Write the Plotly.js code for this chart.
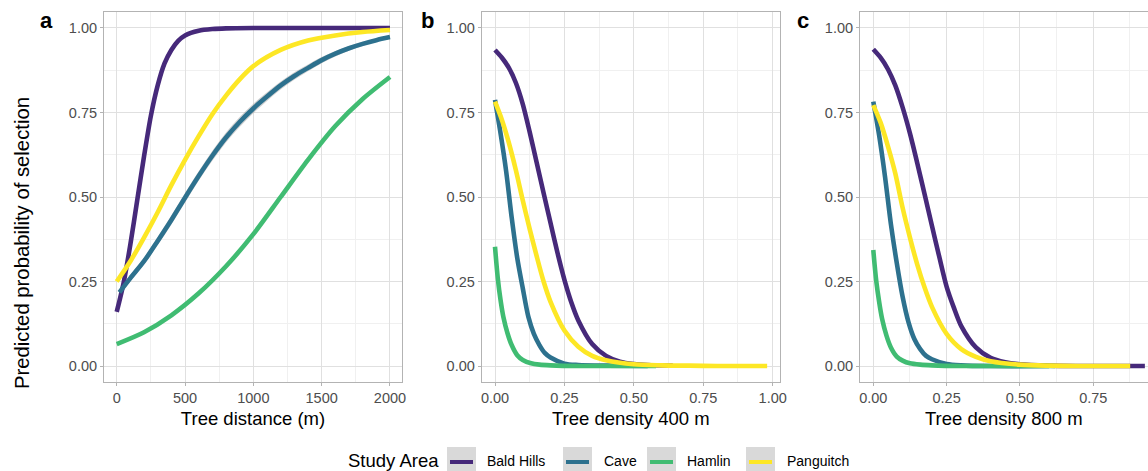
<!DOCTYPE html>
<html>
<head>
<meta charset="utf-8">
<script src="https://cdn.plot.ly/plotly-3.0.1.min.js"></script>
<style>html,body{margin:0;padding:0;background:#fff}</style>
</head>
<body>
<div id="chart" style="width:1148px;height:471px"></div>
<script>
// ---------- data ----------
const studyAreas = ["Bald Hills", "Cave", "Hamlin", "Panguitch"];
const areaColors = ["#46297A", "#2D718E", "#40BC72", "#FDE725"];

// Panel a: tree distance (m)
const distBald = [0,50,100,150,200,250,300,350,400,450,500,600,700,800,1000,1200,1400,1600,1800,2000];
const probDistBald = [0.16,0.245,0.36,0.49,0.62,0.74,0.83,0.895,0.935,0.962,0.978,0.992,0.997,0.999,1.0,1.0,1.0,1.0,1.0,1.0];
const distCave = [20,100,200,300,400,500,600,700,800,900,1000,1100,1200,1300,1400,1500,1600,1700,1800,1900,2000];
const probDistCave = [0.218,0.26,0.31,0.37,0.432,0.498,0.562,0.622,0.676,0.722,0.762,0.797,0.83,0.858,0.882,0.905,0.924,0.94,0.953,0.964,0.973];
const seDistCave = [0.008,0.009,0.01,0.012,0.013,0.014,0.014,0.015,0.015,0.015,0.014,0.013,0.012,0.011,0.01,0.009,0.008,0.007,0.006,0.005,0.005];
const distHamlin = [0,200,400,600,800,1000,1200,1400,1600,1800,2000];
const probDistHamlin = [0.065,0.10,0.15,0.215,0.295,0.39,0.50,0.61,0.71,0.79,0.855];
const distPang = [0,100,200,300,400,500,600,700,800,900,1000,1200,1400,1600,1800,2000];
const probDistPang = [0.25,0.31,0.38,0.455,0.535,0.61,0.68,0.745,0.80,0.848,0.887,0.935,0.963,0.978,0.988,0.994];

// Panel b: tree density 400 m
const d400Bald = [0,0.025,0.05,0.075,0.1,0.125,0.15,0.175,0.2,0.225,0.25,0.275,0.3,0.35,0.4,0.45,0.5,0.55,0.64];
const p400Bald = [0.935,0.912,0.882,0.838,0.775,0.692,0.602,0.512,0.423,0.335,0.255,0.188,0.135,0.065,0.03,0.013,0.006,0.003,0.001];
const d400Cave = [0,0.02,0.04,0.06,0.08,0.1,0.12,0.14,0.16,0.18,0.2,0.25,0.3,0.4,0.55];
const p400Cave = [0.787,0.688,0.577,0.44,0.32,0.23,0.146,0.095,0.062,0.038,0.025,0.007,0.003,0.001,0.0];
const d400Hamlin = [0,0.01,0.02,0.03,0.045,0.06,0.08,0.1,0.13,0.16,0.2,0.3,0.4,0.58];
const p400Hamlin = [0.353,0.26,0.195,0.146,0.097,0.062,0.032,0.018,0.008,0.004,0.002,0.0,0.0,0.0];
const d400Pang = [0,0.025,0.05,0.075,0.1,0.125,0.15,0.175,0.2,0.25,0.3,0.35,0.4,0.5,0.6,0.7,0.8,0.9,0.98];
const p400Pang = [0.782,0.728,0.66,0.58,0.49,0.405,0.325,0.25,0.19,0.105,0.057,0.03,0.017,0.005,0.002,0.001,0.0,0.0,0.0];

// Panel c: tree density 800 m
const d800Bald = [0,0.025,0.05,0.075,0.1,0.125,0.15,0.175,0.2,0.225,0.25,0.275,0.3,0.35,0.4,0.45,0.5,0.6,0.7,0.8,0.926];
const p800Bald = [0.937,0.912,0.878,0.83,0.765,0.688,0.6,0.508,0.415,0.323,0.235,0.172,0.118,0.055,0.024,0.011,0.005,0.001,0.0,0.0,0.0];
const d800Cave = [0,0.02,0.04,0.06,0.08,0.1,0.12,0.14,0.16,0.18,0.2,0.25,0.3,0.4,0.6];
const p800Cave = [0.782,0.682,0.56,0.42,0.305,0.205,0.13,0.08,0.05,0.03,0.02,0.006,0.002,0.0,0.0];
const d800Hamlin = [0,0.01,0.02,0.03,0.045,0.06,0.08,0.1,0.125,0.16,0.2,0.3,0.4,0.62];
const p800Hamlin = [0.343,0.252,0.19,0.14,0.09,0.055,0.028,0.016,0.008,0.004,0.002,0.0,0.0,0.0];
const d800Pang = [0,0.025,0.05,0.075,0.1,0.125,0.15,0.175,0.2,0.25,0.3,0.35,0.4,0.5,0.6,0.7,0.8,0.876];
const p800Pang = [0.772,0.72,0.65,0.57,0.468,0.38,0.3,0.232,0.175,0.095,0.05,0.027,0.014,0.004,0.001,0.0,0.0,0.0];

const probTicks = [0, 0.25, 0.5, 0.75, 1];
const probTickText = ["0.00", "0.25", "0.50", "0.75", "1.00"];
const distTicks = [0, 500, 1000, 1500, 2000];
const distTickText = ["0", "500", "1000", "1500", "2000"];
const densTicks400 = [0, 0.25, 0.5, 0.75, 1];
const densTickText400 = ["0.00", "0.25", "0.50", "0.75", "1.00"];
const densTicks800 = [0, 0.25, 0.5, 0.75];
const densTickText800 = ["0.00", "0.25", "0.50", "0.75"];
const xTitles = ["Tree distance (m)", "Tree density 400 m", "Tree density 800 m"];
const yTitle = "Predicted probability of selection";
const panelLetters = ["a", "b", "c"];
const legendTitle = "Study Area";

// ---------- traces ----------
const FONT = "Liberation Sans, Arial, sans-serif";
const LW = 4.6;
const traces = [];

// ribbon for Cave in panel a
const caveLo = probDistCave.map((v, i) => v - seDistCave[i]);
const caveHi = probDistCave.map((v, i) => v + seDistCave[i]);
traces.push({x: distCave, y: caveLo, xaxis: "x", yaxis: "y", mode: "lines",
  line: {width: 0, shape: "spline", color: "rgba(0,0,0,0)"}, hoverinfo: "skip", showlegend: false});
traces.push({x: distCave, y: caveHi, xaxis: "x", yaxis: "y", mode: "lines", fill: "tonexty",
  fillcolor: "rgba(153,153,153,0.45)", line: {width: 0, shape: "spline", color: "rgba(0,0,0,0)"},
  hoverinfo: "skip", showlegend: false});

const panels = [
  {xa: "x", ya: "y", xs: [distBald, distCave, distHamlin, distPang], ys: [probDistBald, probDistCave, probDistHamlin, probDistPang]},
  {xa: "x2", ya: "y2", xs: [d400Bald, d400Cave, d400Hamlin, d400Pang], ys: [p400Bald, p400Cave, p400Hamlin, p400Pang]},
  {xa: "x3", ya: "y3", xs: [d800Bald, d800Cave, d800Hamlin, d800Pang], ys: [p800Bald, p800Cave, p800Hamlin, p800Pang]}
];
panels.forEach((p, pi) => {
  studyAreas.forEach((name, i) => {
    traces.push({
      x: p.xs[i], y: p.ys[i], xaxis: p.xa, yaxis: p.ya, name: name, mode: "lines",
      line: {color: areaColors[i], width: LW, shape: "spline", smoothing: 0.8},
      showlegend: false
    });
  });
});

// ---------- layout ----------
const W = 1148, H = 471;
const px = v => v / W;
const py = v => 1 - v / H;
const yDom = [py(382), py(12)];

function xAxis(dom, range, tv, tt, minorDt, title) {
  return {
    domain: dom, range: range, tickmode: "array", tickvals: tv, ticktext: tt,
    showline: true, linecolor: "#b3b3b3", linewidth: 1, mirror: true,
    ticks: "outside", ticklen: 3, tickcolor: "#b3b3b3", tickwidth: 1,
    showgrid: true, gridcolor: "#e0e0e0", gridwidth: 1, zeroline: false,
    minor: {dtick: minorDt, tick0: 0, showgrid: true, gridcolor: "#f0f0f0", gridwidth: 1},
    tickfont: {family: FONT, size: 14.5, color: "#4d4d4d"},
    title: {text: title, font: {family: FONT, size: 18.5, color: "#000"}, standoff: 6},
    fixedrange: true
  };
}
function yAxis(anchor) {
  return {
    domain: yDom, range: [-0.0473, 1.0473], anchor: anchor,
    tickmode: "array", tickvals: probTicks, ticktext: probTickText,
    showline: true, linecolor: "#b3b3b3", linewidth: 1, mirror: true,
    ticks: "outside", ticklen: 3, tickcolor: "#b3b3b3", tickwidth: 1,
    showgrid: true, gridcolor: "#e0e0e0", gridwidth: 1, zeroline: false,
    minor: {dtick: 0.125, tick0: 0, showgrid: true, gridcolor: "#f0f0f0", gridwidth: 1},
    tickfont: {family: FONT, size: 14.5, color: "#4d4d4d"},
    fixedrange: true
  };
}

const layout = {
  width: W, height: H,
  margin: {l: 0, r: 0, t: 0, b: 0, pad: 0, autoexpand: false},
  paper_bgcolor: "#ffffff", plot_bgcolor: "#ffffff",
  showlegend: false,
  font: {family: FONT},
  xaxis: Object.assign(xAxis([px(104), px(402)], [-93, 2088], distTicks, distTickText, 250, xTitles[0]), {anchor: "y"}),
  yaxis: yAxis("x"),
  xaxis2: Object.assign(xAxis([px(481.7), px(780)], [-0.0479, 1.0263], densTicks400, densTickText400, 0.125, xTitles[1]), {anchor: "y2"}),
  yaxis2: yAxis("x2"),
  xaxis3: Object.assign(xAxis([px(860), px(1147.5)], [-0.0453, 0.935], densTicks800, densTickText800, 0.125, xTitles[2]), {anchor: "y3"}),
  yaxis3: yAxis("x3"),
  annotations: [],
  shapes: []
};

// y title (shared)
layout.annotations.push({text: yTitle, xref: "paper", yref: "paper", x: px(22), y: py(243),
  xanchor: "center", yanchor: "middle", textangle: -90, showarrow: false,
  font: {family: FONT, size: 20.3, color: "#000"}});

// panel letters
const letterPos = [[47, 21], [427, 21], [803, 21]];
panelLetters.forEach((l, i) => {
  layout.annotations.push({text: "<b>" + l + "</b>", xref: "paper", yref: "paper",
    x: px(letterPos[i][0]), y: py(letterPos[i][1]), xanchor: "center", yanchor: "middle",
    showarrow: false, font: {family: FONT, size: 22, color: "#000"}});
});

// legend (ggplot-style, with grey ribbon keys)
layout.annotations.push({text: legendTitle, xref: "paper", yref: "paper", x: px(346), y: py(460),
  xanchor: "left", yanchor: "middle", showarrow: false, font: {family: FONT, size: 18.5, color: "#000"}});
const keyX = [447, 563, 647, 746];
const labelX = [485, 602, 685, 785];
studyAreas.forEach((name, i) => {
  layout.shapes.push({type: "rect", xref: "paper", yref: "paper", x0: px(keyX[i]), x1: px(keyX[i] + 29),
    y0: py(476), y1: py(447), fillcolor: "#d9d9d9", line: {width: 0}, layer: "above"});
  layout.shapes.push({type: "line", xref: "paper", yref: "paper", x0: px(keyX[i] + 3), x1: px(keyX[i] + 26),
    y0: py(462), y1: py(462), line: {color: areaColors[i], width: 4}, layer: "above"});
  layout.annotations.push({text: name, xref: "paper", yref: "paper", x: px(labelX[i]), y: py(461),
    xanchor: "left", yanchor: "middle", showarrow: false, font: {family: FONT, size: 14, color: "#000"}});
});

Plotly.newPlot("chart", traces, layout, {displayModeBar: false, staticPlot: true});
</script>
</body>
</html>
